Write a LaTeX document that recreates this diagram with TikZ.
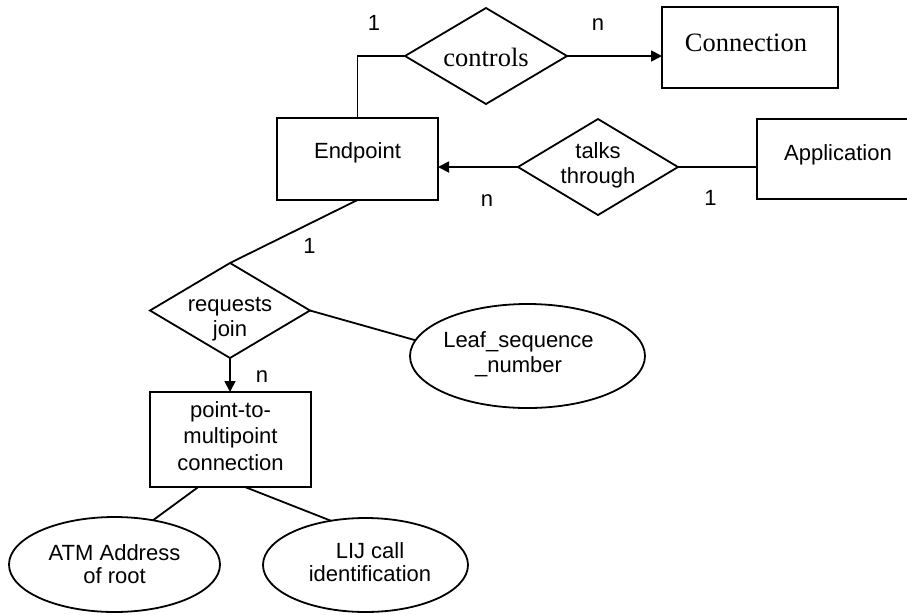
\documentclass[tikz,border=0pt]{standalone}
\usepackage{fontspec}
\usetikzlibrary{shapes.geometric,arrows.meta,calc}
\newfontfamily\arialf{Liberation Sans}
\newfontfamily\timesf{Liberation Serif}
\newcommand\mlt[1]{\begin{tabular}[t]{@{}c@{}}#1\end{tabular}}
\begin{document}
\begin{tikzpicture}[x=1pt,y=-1pt,
  line width=1.8pt,
  every node/.style={inner sep=0pt, outer sep=0pt},
  sans/.style={font=\arialf\fontsize{22}{25}\selectfont},
  serif/.style={font=\timesf\fontsize{26.5}{30}\selectfont},
  entity/.style={draw, rectangle, sans},
  rel/.style={draw, diamond, aspect=1.68, sans},
  attr/.style={draw, ellipse, sans},
  lbl/.style={sans, anchor=base},
  arr/.style={-{Triangle[length=11pt,width=11pt]}}
]
\useasboundingbox (0,0) rectangle (907,614);
\fill[white] (0,0) rectangle (907,614);
\clip (0,0) rectangle (907,614);

% entities and relationships
\node[entity, serif, minimum width=176pt, minimum height=81pt, text height=14.2pt, text depth=5.8pt] (conn) at (750,47.5) {\kern-8pt Connection};
\node[rel, serif, minimum width=162pt, minimum height=96pt, text height=21.4pt, text depth=0pt] (ctrl) at (486,56) {controls};
\node[entity, minimum width=161pt, minimum height=82pt, text height=9.3pt, text depth=10.7pt] (ep) at (357.5,159) {Endpoint};
\node[rel, minimum width=160pt, minimum height=96pt, text height=1pt, text depth=19pt] (tt) at (598,167) {\mlt{talks\\through}};
\node[entity, minimum width=162pt, minimum height=80pt, text height=11pt, text depth=9pt] (app) at (838,159) {Application};
\node[rel, minimum width=160pt, minimum height=95pt, text height=11pt, text depth=9pt] (rj) at (230,310.5) {\mlt{requests\\join}};
\node[attr, minimum width=235pt, minimum height=104pt, text height=1pt, text depth=19pt] (leaf) at (527.5,356) {\kern-18pt\mlt{Leaf\_sequence\\\_number}};
\node[entity, font=\arialf\fontsize{22}{26.5}\selectfont, minimum width=161pt, minimum height=95pt, text height=0.5pt, text depth=45.5pt] (p2m) at (230.5,439.5) {\mlt{point-to-\\multipoint\\connection}};
\node[attr, font=\arialf\fontsize{22}{23.5}\selectfont, minimum width=211pt, minimum height=95pt, text height=5.5pt, text depth=14.5pt] (atm) at (114.5,564.5) {\mlt{ATM Address\\of root}};
\node[attr, font=\arialf\fontsize{22}{23.5}\selectfont, minimum width=205pt, minimum height=94pt, text height=3.3pt, text depth=16.7pt] (lij) at (365.5,565) {\mlt{LIJ call\\identification}\kern-9pt};

% connectors
\draw (ep.north) |- (ctrl.west);
\draw[arr] (ctrl.east) -- (ctrl.east -| conn.west);
\draw[arr] (tt.west) -- (tt.west -| ep.east);
\draw (tt.east) -- (tt.east -| app.west);
\draw (ep.south) -- (rj.north);
\draw (rj.east) -- (leaf.172);
\draw[arr] (rj.south) -- (rj.south |- p2m.north);
\draw ($(p2m.south west)!0.3!(p2m.south east)$) -- (atm.49);
\draw ($(p2m.south west)!0.59!(p2m.south east)$) -- (lij.128);

% cardinalities
\node[lbl] (c1) at (374,30) {1};
\node[lbl] (cn) at (598,30) {n};
\node[lbl] (tn) at (487,206.7) {n};
\node[lbl] (t1) at (710.5,205) {1};
\node[lbl] (r1) at (309.5,253.3) {1};
\node[lbl] (rn) at (262,382.7) {n};
\end{tikzpicture}
\end{document}
